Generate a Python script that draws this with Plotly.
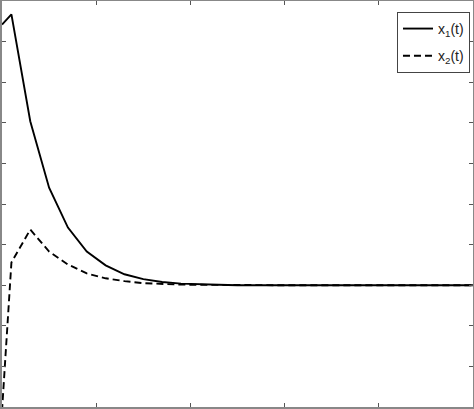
import plotly.graph_objects as go

# 時刻（横軸）
t = [0, 0.5, 1.5, 2.5, 3.5, 4.5, 5.5, 6.5, 7.5, 8.5, 9.5, 10.5, 11.5,
     12.5, 14.5, 16.5, 18.5, 20.5, 22.5, 24.5, 25]
# x1(t)
x1 = [6.42, 6.67, 4.04, 2.40, 1.42, 0.83, 0.49, 0.27, 0.15, 0.08, 0.04, 0.02, 0.01,
      0.0, 0.0, 0.0, 0.0, 0.0, 0.0, 0.0, 0.0]
# x2(t)
x2 = [-3.1, 0.56, 1.37, 0.83, 0.51, 0.29, 0.17, 0.10, 0.05, 0.03, 0.015, 0.01, 0.005,
      0.0, 0.0, 0.0, 0.0, 0.0, 0.0, 0.0, 0.0]

x_ticks = [0, 5, 10, 15, 20, 25]
y_ticks = [-3, -2, -1, 0, 1, 2, 3, 4, 5, 6, 7]


def main() -> None:
    fig = go.Figure()
    fig.add_trace(go.Scatter(x=t, y=x1, mode='lines', name='x<sub>1</sub>(t)',
                             legendgroup='a',
                             line=dict(color='black', width=1.9)))
    fig.add_trace(go.Scatter(x=t, y=x2, mode='lines', name='x<sub>2</sub>(t)',
                             legendgroup='b',
                             line=dict(color='black', width=1.9, dash='7px,4px')))

    axis_style = dict(showgrid=False, zeroline=False, showline=True, mirror='ticks',
                      linecolor='#888888', linewidth=1.5, ticks='inside', ticklen=4,
                      tickcolor='#555555', showticklabels=False)
    fig.update_xaxes(range=[0, 25], tickvals=x_ticks, **axis_style)
    fig.update_yaxes(range=[-3, 7], tickvals=y_ticks, **axis_style)

    fig.update_layout(width=474, height=409, plot_bgcolor='white', paper_bgcolor='white',
                      margin=dict(l=2, r=1, t=1, b=2, autoexpand=False),
                      font=dict(family='Liberation Sans', size=14, color='#222222'),
                      legend=dict(x=0.8386, y=0.973, xanchor='left', yanchor='top',
                                  bordercolor='#444444', borderwidth=1, bgcolor='white',
                                  font=dict(size=14), tracegroupgap=6, itemwidth=30),
                      showlegend=True)
    # ページの余白を消す
    fig.write_html('out.html', config={'displayModeBar': False},
                   post_script="document.body.style.margin='0';")


if __name__ == '__main__':
    main()
